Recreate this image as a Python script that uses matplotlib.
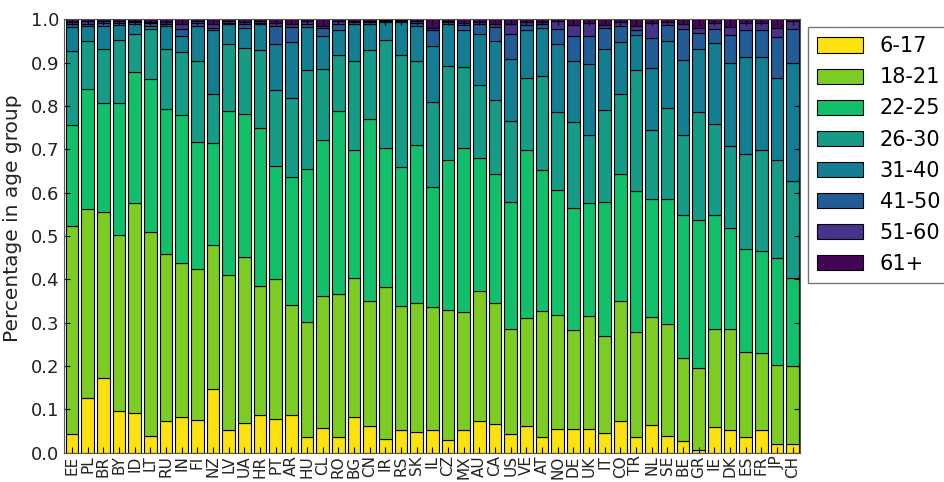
import numpy as np
import matplotlib
matplotlib.use("Agg")
import matplotlib.pyplot as plt

countries = ["EE", "PL", "BR", "BY", "ID", "LT", "RU", "IN", "FI", "NZ",
             "LV", "UA", "HR", "PT", "AR", "HU", "CL", "RO", "BG", "CN",
             "IR", "RS", "SK", "IL", "CZ", "MX", "AU", "CA", "US", "VE",
             "AT", "NO", "DE", "UK", "IT", "CO", "TR", "NL", "SE", "BE",
             "GR", "IE", "DK", "ES", "FR", "JP", "CH"]

age_groups = ["6-17", "18-21", "22-25", "26-30", "31-40", "41-50", "51-60", "61+"]

# share of each age group per country
g_6_17 = [.043, .127, .173, .095, .091, .039, .072, .083, .075, .146,
          .051, .069, .086, .077, .086, .037, .057, .037, .081, .062,
          .032, .051, .048, .051, .028, .051, .074, .066, .042, .062,
          .037, .055, .055, .054, .045, .074, .037, .064, .038, .027,
          .006, .058, .051, .037, .051, .020, .020]
g_18_21 = [.479, .436, .382, .407, .484, .471, .386, .354, .348, .332,
           .359, .383, .299, .323, .255, .265, .305, .328, .323, .289,
           .351, .287, .298, .284, .301, .274, .300, .279, .243, .248,
           .290, .263, .228, .261, .223, .277, .242, .250, .259, .191,
           .189, .227, .234, .195, .178, .182, .180]
g_22_25 = [.235, .277, .252, .305, .303, .353, .336, .343, .294, .237,
           .378, .330, .364, .262, .295, .352, .359, .423, .295, .420,
           .320, .320, .365, .277, .347, .378, .307, .299, .294, .389,
           .326, .287, .282, .260, .311, .293, .324, .272, .288, .331,
           .341, .263, .233, .237, .236, .248, .202]
g_26_30 = [.169, .109, .125, .145, .089, .114, .138, .145, .187, .112,
           .154, .152, .179, .174, .182, .230, .165, .130, .204, .157,
           .249, .260, .192, .196, .216, .187, .168, .169, .186, .166,
           .216, .181, .197, .159, .211, .183, .281, .159, .210, .185,
           .249, .211, .190, .221, .233, .226, .224]
g_31_40 = [.056, .036, .053, .035, .021, .008, .052, .037, .081, .148,
           .046, .047, .060, .106, .130, .098, .076, .057, .087, .062,
           .042, .075, .082, .130, .096, .085, .118, .136, .144, .110,
           .111, .156, .141, .162, .142, .121, .079, .143, .155, .173,
           .147, .186, .190, .223, .215, .189, .272]
g_41_50 = [.006, .005, .006, .004, .005, .006, .006, .016, .006, .006,
           .004, .007, .004, .043, .034, .008, .017, .015, .004, .004,
           .002, .003, .006, .037, .005, .011, .021, .033, .056, .012,
           .009, .035, .059, .066, .048, .037, .013, .069, .036, .070,
           .036, .032, .066, .062, .062, .095, .079]
g_51_60 = [.006, .005, .004, .004, .003, .003, .004, .010, .004, .007,
           .003, .005, .003, .006, .006, .005, .006, .005, .003, .003,
           .002, .002, .004, .005, .003, .006, .005, .008, .025, .006,
           .005, .018, .025, .030, .007, .009, .009, .035, .007, .013,
           .011, .015, .019, .017, .017, .019, .018]
g_61 = [.006, .005, .005, .005, .004, .006, .006, .012, .005, .012,
        .005, .007, .005, .009, .012, .005, .015, .005, .003, .003,
        .002, .002, .005, .020, .004, .008, .007, .010, .010, .007,
        .006, .005, .013, .008, .013, .006, .015, .008, .007, .010,
        .021, .008, .017, .008, .008, .021, .005]

series = [g_6_17, g_18_21, g_22_25, g_26_30, g_31_40, g_41_50, g_51_60, g_61]
colors = ["#fbe10e", "#7dcc24", "#12c06c", "#169b87", "#137d91",
          "#225c96", "#46328a", "#430656"]

fig = plt.figure(figsize=(9.45, 4.82), dpi=100)
ax = fig.add_axes([0.068, 0.061, 0.779, 0.899])

x = np.arange(len(countries))
bottom = np.zeros(len(countries))
handles = []
for vals, col, lab in zip(series, colors, age_groups):
    vals = np.array(vals)
    b = ax.bar(x, vals, width=0.8, bottom=bottom, color=col,
               edgecolor="black", linewidth=0.8, label=lab)
    handles.append(b)
    bottom += vals

ax.set_xlim(-0.5, len(countries) - 0.5)
ax.set_ylim(0, 1.0)
ax.set_yticks(np.arange(0, 1.01, 0.1))
ax.set_yticklabels(["%.1f" % v for v in np.arange(0, 1.01, 0.1)], fontsize=13,
                   color="#222222")
ax.set_xticks(x)
ax.set_xticklabels(countries, rotation=90, fontsize=11, color="#222222")
ax.tick_params(axis="both", direction="in", length=4, top=True, right=True)
ax.tick_params(axis="x", pad=2)
ax.set_ylabel("Percentage in age group", fontsize=14.5, color="#222222")
ax.yaxis.set_label_coords(-0.058, 0.54)
for s in ax.spines.values():
    s.set_color("#555555")

fig.legend(handles, age_groups, loc="upper left",
           bbox_to_anchor=(808 / 945, 1 - 27 / 482), borderaxespad=0,
           fontsize=15, frameon=True, fancybox=False, edgecolor="#555555",
           handlelength=2.2, handleheight=0.75, labelspacing=0.53,
           borderpad=0.45, handletextpad=0.8)

fig.savefig("out.png", dpi=100)
